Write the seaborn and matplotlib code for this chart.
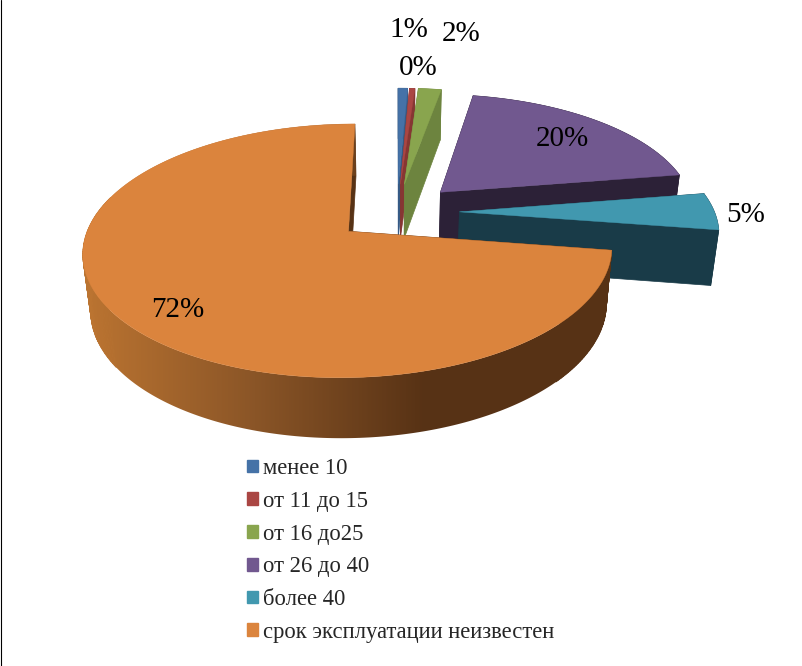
import numpy as np
import matplotlib
matplotlib.use('Agg')
import matplotlib.pyplot as plt
from matplotlib.patches import Patch, Polygon
import seaborn as sns

# Data
categories = ['менее 10', 'от 11 до 15', 'от 16 до25', 'от 26 до 40', 'более 40', 'срок эксплуатации неизвестен']
shares = [0.7, 0.4, 1.7, 19.6, 4.9, 72.4]
top_colors = ['#4572A7', '#AA4643', '#89A54E', '#71588F', '#4198AF', '#DB843D']
wall_colors = ['#365a85', '#863633', '#6d843f', '#2c2137', '#193b48', '#573215']

sns.set_theme(style='white')
plt.rcParams['font.family'] = ['Liberation Serif', 'DejaVu Serif']

# Fake 3d view: perspective of the pie plane, all in screen pixels
OX, OY = 397, 212
RX, RY = 255, 118
PERSP = 0.15
EXPLODE = 0.245
DEPTH = 55
SHRINK = 0.975
# where the wall shading starts and ends on screen
SHADE_FROM, SHADE_TO = 85, 425


def project(u, v, lower=False):
    # pie plane coordinates -> pixel position, lower=True gives the bottom rim
    w = 1 + PERSP * v
    x = RX * u / w
    y = OY - RY * v / w
    if lower:
        x = x * SHRINK
        y = y + DEPTH / np.sqrt(w)
    return OX + x, y


def draw_slice(ax, start, end, top_color, wall_color, wall_cmap=None):
    # start/end are clockwise angles from 12 o'clock, in degrees
    mid = np.radians(90 - (start + end) / 2)
    cu, cv = EXPLODE * np.cos(mid), EXPLODE * np.sin(mid)
    ang = np.radians(90 - np.linspace(start, end, 300))
    u = cu + np.cos(ang)
    v = cv + np.sin(ang)

    xt, yt = project(u, v)
    xb, yb = project(u, v, lower=True)
    x0, y0 = project(cu, cv)
    x1, y1 = project(cu, cv, lower=True)

    # the two cut faces
    ax.fill([x0, xt[0], xb[0], x1], [y0, yt[0], yb[0], y1], color=wall_color, lw=0.5)
    ax.fill([x0, xt[-1], xb[-1], x1], [y0, yt[-1], yb[-1], y1], color=wall_color, lw=0.5)

    # outer wall, a horizontal gradient clipped to the rim when it has shading
    wall_x = np.r_[xt, xb[::-1]]
    wall_y = np.r_[yt, yb[::-1]]
    if wall_cmap is None:
        ax.fill(wall_x, wall_y, color=wall_color, lw=0.5)
    else:
        rim = Polygon(np.c_[wall_x, wall_y], closed=True, transform=ax.transData, fill=False, lw=0)
        ax.add_patch(rim)
        shade = np.clip((np.arange(803) - SHADE_FROM) / (SHADE_TO - SHADE_FROM), 0, 1)
        img = ax.imshow(shade[None, :], cmap=wall_cmap, vmin=0, vmax=1, aspect='auto',
                        extent=[0, 803, 666, 0], zorder=1)
        img.set_clip_path(rim)
        # the rim polygon misses the silhouette at both ends of the wall
        for i in range(len(ang) - 1):
            if xt[i] < 110 or xt[i] > 560:
                c = wall_cmap(np.clip((xt[i] - SHADE_FROM) / (SHADE_TO - SHADE_FROM), 0, 1))
                ax.fill([xt[i], xt[i + 1], xb[i + 1], xb[i]], [yt[i], yt[i + 1], yb[i + 1], yb[i]],
                        color=c, lw=0.5, zorder=1)

    # top surface
    ax.fill(np.r_[x0, xt], np.r_[y0, yt], color=top_color, lw=0.3, zorder=1)


fig = plt.figure(figsize=(8.03, 6.66), dpi=100, facecolor='white')
ax = fig.add_axes([0, 0, 1, 1])
ax.axis('off')
ax.axvline(0.5, color='black', lw=0.8)

orange_wall = sns.blend_palette(['#bb7431', '#8a5527', '#573215'], as_cmap=True)

fractions = np.array(shares) / sum(shares)
edges = np.r_[0, np.cumsum(fractions)] * 360
for i in range(len(shares)):
    draw_slice(ax, edges[i], edges[i + 1], top_colors[i], wall_colors[i],
               wall_cmap=orange_wall if i == 5 else None)

ax.set_xlim(0, 803)
ax.set_ylim(666, 0)

# percent labels
label_x = [409, 418, 461, 562, 746, 178]
label_y = [30, 68, 34, 139, 215, 310]
for i in range(len(shares)):
    ax.text(label_x[i], label_y[i], f'{shares[i]:.0f}%', fontsize=21, color='black',
            ha='center', va='center', zorder=3)

handles = [Patch(color=c) for c in top_colors]
ax.legend(handles, categories, loc='upper left', bbox_to_anchor=(242.5, 453.5), bbox_transform=ax.transData,
          frameon=False, prop={'size': 16.3}, handlelength=0.49, handleheight=0.49, handletextpad=0.22,
          labelspacing=0.52, borderpad=0.2, borderaxespad=0)

plt.savefig('out.png', dpi=100)
